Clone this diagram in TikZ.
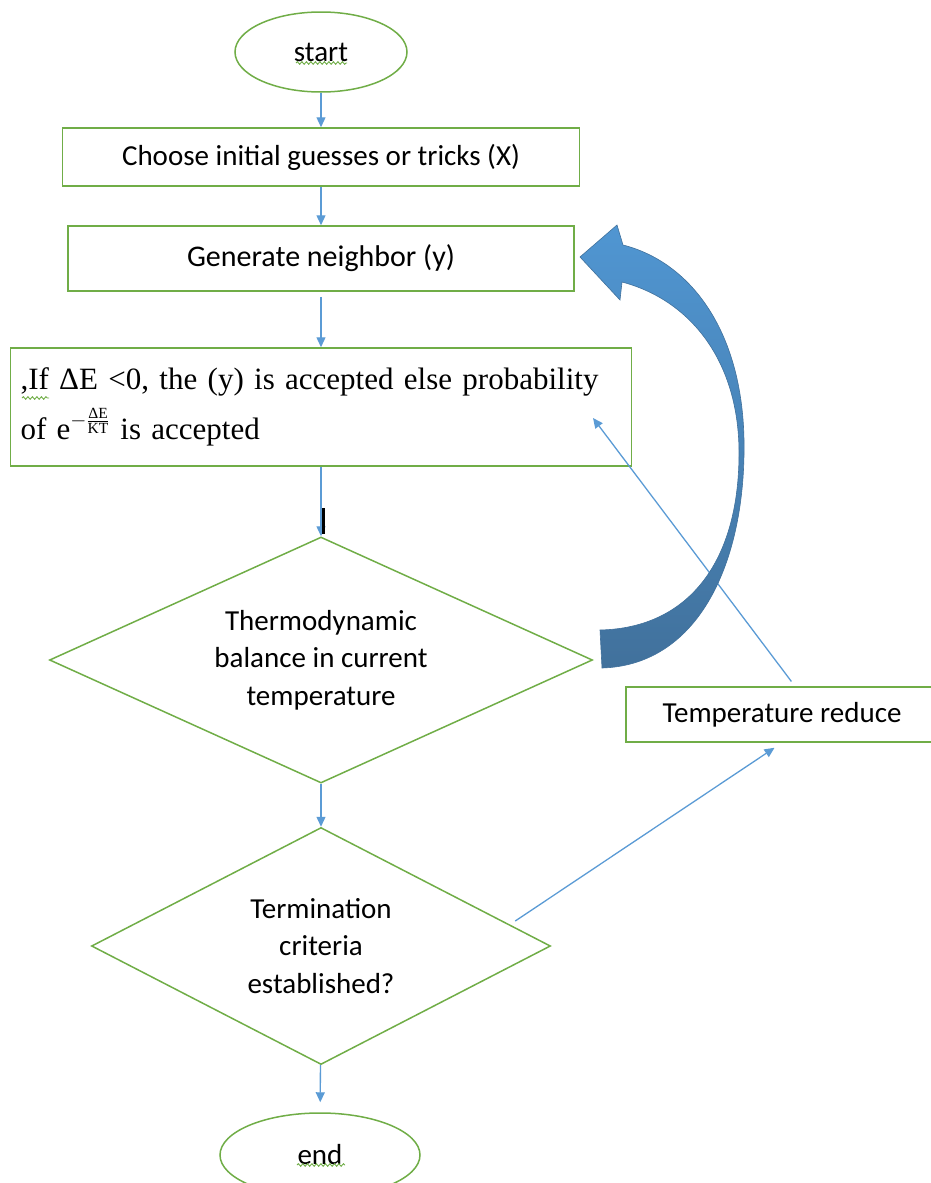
\documentclass[tikz,border=0pt]{standalone}
\usepackage{amsmath}
\usepackage{fontspec}
\setmainfont{Carlito}
\newfontfamily\timesfont{Liberation Serif}
\usetikzlibrary{shapes.geometric,arrows.meta,decorations.pathmorphing}
\definecolor{flowgreen}{RGB}{112,173,71}
\definecolor{flowblue}{RGB}{91,155,213}
\definecolor{loopblue}{RGB}{80,150,210}
\definecolor{darkblue}{RGB}{65,113,156}

\begin{document}
\begin{tikzpicture}[x=1pt,y=-1pt,
		font=\fontsize{29}{37.5}\selectfont,
		terminal/.style={ellipse, draw=flowgreen, line width=1.5pt, inner sep=0pt},
		process/.style={rectangle, draw=flowgreen, line width=1.5pt, inner sep=0pt},
		decision/.style={diamond, draw=flowgreen, line width=1.5pt, inner sep=0pt, align=center},
		flow/.style={draw=flowblue, line width=1.3pt, -{Triangle[length=10pt,width=9pt]}},
		squiggle/.style={draw=flowgreen, line width=0.9pt, decorate, decoration={snake, amplitude=1.3pt, segment length=4.5pt}}]
		\useasboundingbox (0,0) rectangle (931,1183);
		\draw (321,52) node [terminal, minimum width=172pt, minimum height=80pt] (start) {start};
		\draw (321,157) node [process, minimum width=517pt, minimum height=58pt] (choose) {Choose initial guesses or tricks (X)};
		\draw (321,258.5) node [process, minimum width=506pt, minimum height=65pt, font=\fontsize{30}{36}\selectfont] (neighbor) {Generate neighbor (y)};
		\draw (321,407) node [process, inner xsep=10pt, text width=601pt, align=left, minimum height=118pt,
			font=\timesfont\fontsize{31}{50}\selectfont] (accept)
			{,If ΔE <0, the (y) is accepted else probability\\of e\raisebox{3pt}{$^{-\frac{\text{ΔE}}{\text{KT}}}$} is accepted};
		\draw (321,660) node [decision, aspect=2.2, minimum width=543pt, minimum height=246pt] (balance) {Thermodynamic\\balance in current\\temperature};
		\draw (321,946) node [decision, aspect=1.94, minimum width=459pt, minimum height=237pt] (term) {Termination\\criteria\\established?};
		\draw (782,714.5) node [process, minimum width=312pt, minimum height=55pt] (temp) {Temperature reduce};
		\draw (320,1155) node [terminal, minimum width=200pt, minimum height=84pt] (end) {end};
		\coordinate (accpt) at (593,418);
		\draw
		(start) edge[flow] (choose)
		(choose) edge[flow] (neighbor)
		(neighbor) edge[flow, shorten <=5pt] (accept)
		(accept) edge[flow] (balance)
		(balance) edge[flow] (term)
		(term) edge[flow, shorten >=10pt] (end)
		([shift={(-36,-25)}]term.east) edge[flow, shorten >=9pt] (temp.south)
		([xshift=13pt]temp.north) edge[flow, shorten <=6pt] (accpt);
		% loop back to the neighbour step
		\shade[top color=loopblue, bottom color=darkblue, draw=darkblue, line width=0.6pt]
		(602,668) .. controls (700,665) and (746,560) .. (744,440)
		.. controls (742,330) and (690,262) .. (623,245)
		-- (617,225) -- (580,257) -- (620,300) -- (622,282)
		.. controls (690,300) and (738,360) .. (739,450)
		.. controls (740,560) and (690,628) .. (600,630) -- cycle;
		% spell check marks and cursor
		\draw[squiggle] (296,63) -- (347,63);
		\draw[squiggle] (297,1165) -- (345,1165);
		\draw[squiggle] (22,398) -- (49,398);
		\draw[line width=3.5pt] (323.5,508) -- (323.5,534);
	\end{tikzpicture}
\end{document}
